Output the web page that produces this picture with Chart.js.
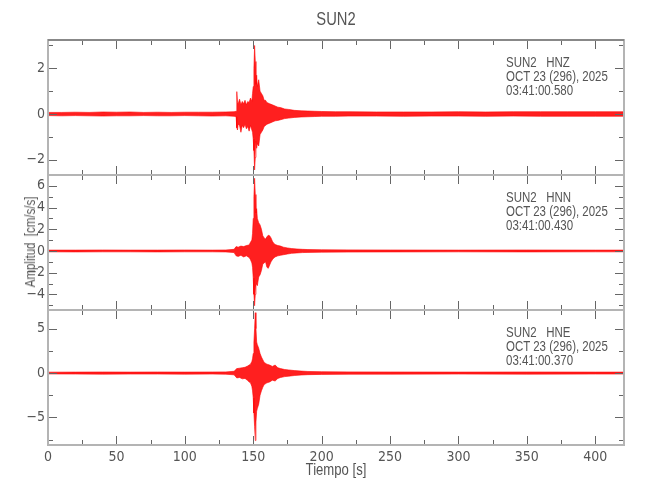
<!DOCTYPE html>
<html>
<head>
<meta charset="utf-8">
<script src="https://cdn.jsdelivr.net/npm/chart.js@4.4.0/dist/chart.umd.min.js"></script>
<style>
  body { margin: 0; background: #fff; }
  #wrap { position: relative; width: 650px; height: 500px; overflow: hidden;
          font-family: 'Liberation Sans', Arial, sans-serif; color: #555; }
  canvas { position: absolute; left: 0; }
  .txt { position: absolute; white-space: pre; line-height: 14px; font-size: 14px; transform-origin: 0 0; transform: scaleX(0.82); }
  .ctr { position: absolute; white-space: pre; transform: translate(-50%, 0) scaleX(0.82); }
</style>
</head>
<body>
<div id="wrap">
  <canvas id="c1" width="650" height="180" style="top:0;width:650px;height:180px"></canvas>
  <canvas id="c2" width="650" height="145" style="top:170px;width:650px;height:145px"></canvas>
  <canvas id="c3" width="650" height="195" style="top:305px;width:650px;height:195px"></canvas>
  <div class="ctr" style="left:336px;top:9px;font-size:18px;line-height:20px">SUN2</div>
  <div class="ctr" style="left:336px;top:461px;font-size:16px;line-height:18px">Tiempo [s]</div>
  <div style="position:absolute;left:30px;top:242px;font-size:14px;line-height:16px;white-space:pre;transform:translate(-50%,-50%) rotate(-90deg) scaleX(0.82)">Amplitud  [cm/s/s]</div>
  <div class="txt" style="left:506px;top:55px">SUN2   HNZ
OCT 23 (296), 2025
03:41:00.580</div>
  <div class="txt" style="left:506px;top:190px">SUN2   HNN
OCT 23 (296), 2025
03:41:00.430</div>
  <div class="txt" style="left:506px;top:325px">SUN2   HNE
OCT 23 (296), 2025
03:41:00.370</div>
</div>
<script>
// time axis
var xMajor = [0, 50, 100, 150, 200, 250, 300, 350, 400];
var xMinor = [25, 75, 125, 175, 225, 275, 325, 375];

// HNZ envelope (cm/s/s)
var t1 = [0, 10, 20, 30, 40, 50, 60, 70, 80, 90, 100, 110, 120, 130, 136, 137.5,
  138, 138.5, 139, 140, 141, 142, 143, 144, 145, 146, 147, 148, 149,
  149.5, 150, 150.5, 151, 151.5, 152, 152.5, 153, 154, 155, 156, 157, 158, 159, 160,
  162, 164, 166, 168, 170, 173, 176, 180, 185, 190, 195, 200, 210, 220,
  240, 260, 280, 300, 320, 340, 360, 380, 400, 421];
var up1 = [0.07, 0.07, 0.08, 0.07, 0.09, 0.08, 0.09, 0.07, 0.08, 0.07, 0.08, 0.08, 0.08, 0.09, 0.1, 0.12,
  0.98, 0.5, 0.45, 0.65, 0.4, 0.55, 0.45, 0.6, 0.4, 0.55, 0.5, 0.7, 0.55,
  0.9, 1.2, 2.0, 3.0, 2.3, 1.3, 1.7, 1.2, 1.5, 1.0, 0.9, 0.8, 0.6, 0.6, 0.5,
  0.45, 0.4, 0.35, 0.3, 0.28, 0.22, 0.2, 0.16, 0.14, 0.13, 0.12, 0.11, 0.1, 0.1,
  0.09, 0.09, 0.09, 0.1, 0.09, 0.1, 0.1, 0.1, 0.1, 0.1];
var lo1 = [-0.07, -0.08, -0.07, -0.08, -0.09, -0.08, -0.08, -0.07, -0.08, -0.08, -0.07, -0.08, -0.09, -0.08, -0.1, -0.12,
  -0.6, -0.7, -0.45, -0.5, -0.8, -0.5, -0.6, -0.45, -0.65, -0.55, -0.75, -0.5, -0.7,
  -0.8, -1.1, -1.6, -2.45, -1.9, -1.2, -1.5, -1.3, -1.4, -0.9, -0.8, -0.7, -0.55, -0.5, -0.45,
  -0.4, -0.35, -0.3, -0.28, -0.25, -0.2, -0.18, -0.15, -0.13, -0.12, -0.11, -0.1, -0.1, -0.09,
  -0.09, -0.1, -0.09, -0.09, -0.1, -0.09, -0.1, -0.1, -0.1, -0.1];

// HNN
var t2 = [0, 20, 40, 60, 80, 100, 120, 130, 136, 137.5, 139, 141, 143, 145, 147, 148, 149,
  149.5, 150, 150.5, 151, 151.5, 152, 152.5,
  153, 154, 155, 156, 157, 158, 159, 160, 161, 162, 163, 164, 165, 166,
  168, 170, 172, 175, 178, 182, 186, 190, 200, 220, 250, 300, 350, 400, 421];
var up2 = [0.08, 0.08, 0.09, 0.08, 0.08, 0.09, 0.08, 0.09, 0.15, 0.4, 0.35, 0.45, 0.4, 0.5, 0.55, 0.8, 1.0,
  1.6, 3.0, 5.0, 6.7, 5.2, 3.5, 3.9,
  3.0, 2.6, 2.4, 2.0, 1.4, 1.2, 1.1, 1.3, 1.45, 1.4, 1.2, 0.9, 0.7, 0.6,
  0.5, 0.45, 0.35, 0.28, 0.22, 0.18, 0.15, 0.13, 0.11, 0.1, 0.09, 0.08, 0.09, 0.08, 0.08];
var lo2 = [-0.08, -0.09, -0.08, -0.08, -0.09, -0.08, -0.08, -0.09, -0.15, -0.45, -0.5, -0.4, -0.55, -0.45, -0.6, -0.8, -1.1,
  -1.5, -2.5, -4.0, -5.05, -4.0, -3.2, -3.0,
  -3.2, -2.4, -2.2, -1.8, -1.2, -1.1, -1.0, -1.5, -1.6, -1.3, -1.0, -0.8, -0.65, -0.55,
  -0.45, -0.4, -0.35, -0.28, -0.22, -0.18, -0.15, -0.13, -0.11, -0.1, -0.09, -0.08, -0.09, -0.08, -0.08];

// HNE
var t3 = [0, 20, 40, 60, 80, 100, 120, 130, 136, 138, 140, 142, 144, 146, 147, 148, 149,
  149.5, 150, 150.5, 151, 151.5, 152, 152.5, 153, 154, 155, 156, 157, 158,
  160, 162, 164, 166, 168, 170, 173, 176, 180, 185, 190,
  200, 220, 250, 300, 350, 400, 421];
var up3 = [0.1, 0.11, 0.12, 0.11, 0.12, 0.11, 0.12, 0.13, 0.2, 0.5, 0.55, 0.6, 0.65, 0.8, 0.9, 1.0, 1.3,
  1.6, 2.2, 3.5, 5.0, 6.8, 5.0, 3.5, 3.2, 2.8, 2.2, 1.8, 1.5, 1.2,
  1.0, 0.9, 0.75, 0.9, 0.6, 0.5, 0.4, 0.35, 0.28, 0.22, 0.18,
  0.15, 0.13, 0.12, 0.11, 0.12, 0.11, 0.11];
var lo3 = [-0.1, -0.11, -0.12, -0.11, -0.11, -0.12, -0.11, -0.13, -0.2, -0.55, -0.5, -0.65, -0.6, -0.85, -1.0, -1.1, -1.5,
  -2.0, -2.8, -4.5, -6.0, -7.6, -5.5, -4.3, -4.0, -3.5, -2.5, -2.0, -1.6, -1.3,
  -1.1, -1.0, -0.8, -0.9, -0.6, -0.5, -0.4, -0.35, -0.28, -0.22, -0.18,
  -0.15, -0.13, -0.12, -0.11, -0.12, -0.11, -0.11];

// y ticks per panel
var yMajor1 = [-2, 0, 2], yMinor1 = [-1, 1, 3];
var yMajor2 = [-4, -2, 0, 2, 4, 6], yMinor2 = [-5, -3, -1, 1, 3, 5];
var yMajor3 = [-5, 0, 5], yMinor3 = [-7.5, -2.5, 2.5];

var FONT = "'DejaVu Sans Condensed', 'Liberation Sans', sans-serif";

function pts(t, v) {
  return t.map(function (x, i) { return { x: x, y: v[i] }; });
}

var framePlugin = {
  id: 'frame',
  afterDraw: function (chart, args, opts) {
    var ctx = chart.ctx, a = chart.chartArea;
    var xs = chart.scales.x, ys = chart.scales.y;
    ctx.save();
    ctx.strokeStyle = '#666';
    ctx.lineWidth = 1;
    ctx.beginPath();
    function xt(list, len) {
      list.forEach(function (v) {
        var p = Math.round(xs.getPixelForValue(v)) + 0.5;
        ctx.moveTo(p, a.top); ctx.lineTo(p, a.top + len);
        ctx.moveTo(p, a.bottom); ctx.lineTo(p, a.bottom - len);
      });
    }
    function yt(list, len) {
      list.forEach(function (v) {
        var p = Math.round(ys.getPixelForValue(v)) + 0.5;
        ctx.moveTo(a.left, p); ctx.lineTo(a.left + len, p);
        ctx.moveTo(a.right, p); ctx.lineTo(a.right - len, p);
      });
    }
    xt(xMajor, 9); xt(xMinor, 5);
    yt(opts.major, 9); yt(opts.minor, 5);
    ctx.stroke();
    ctx.strokeStyle = '#b4b4b4';
    ctx.lineWidth = 2;
    ctx.strokeRect(a.left, a.top, a.right - a.left, a.bottom - a.top);
    if (opts.darkTop) {
      ctx.strokeStyle = '#888';
      ctx.beginPath(); ctx.moveTo(a.left, a.top); ctx.lineTo(a.right, a.top); ctx.stroke();
    }
    ctx.restore();
  }
};

function makeChart(id, t, up, lo, ymin, ymax, major, minor, pad, showX, darkTop) {
  new Chart(document.getElementById(id), {
    type: 'line',
    data: {
      datasets: [{
        data: pts(t, up),
        borderColor: '#ff0000',
        borderWidth: 0.6,
        backgroundColor: 'rgba(255,0,0,0.88)',
        pointRadius: 0,
        tension: 0,
        fill: '+1'
      }, {
        data: pts(t, lo),
        borderColor: '#ff0000',
        borderWidth: 0.6,
        pointRadius: 0,
        tension: 0,
        fill: false
      }]
    },
    options: {
      responsive: false,
      maintainAspectRatio: false,
      animation: false,
      devicePixelRatio: 1,
      layout: { padding: { left: 0, right: 26, top: pad[0], bottom: pad[1] } },
      plugins: {
        legend: { display: false },
        tooltip: { enabled: false },
        frame: { major: major, minor: minor, darkTop: darkTop }
      },
      scales: {
        x: {
          type: 'linear',
          min: 0,
          max: 421,
          display: showX,
          grid: { display: false, drawTicks: false },
          border: { display: false },
          afterBuildTicks: function (s) { s.ticks = xMajor.map(function (v) { return { value: v }; }); },
          afterFit: function (s) {
            s.height = showX ? 55 : 0;
            s.paddingLeft = 0; s.paddingRight = 0;
          },
          ticks: { padding: 4, color: '#555', font: { family: FONT, size: 14 }, maxRotation: 0 }
        },
        y: {
          type: 'linear',
          min: ymin,
          max: ymax,
          grid: { display: false, drawTicks: false },
          border: { display: false },
          afterBuildTicks: function (s) { s.ticks = major.map(function (v) { return { value: v }; }); },
          afterFit: function (s) {
            s.width = 48;
            s.paddingTop = 0; s.paddingBottom = 0;
          },
          ticks: {
            padding: 3,
            color: '#555',
            font: { family: FONT, size: 14 },
            callback: function (v) { return v < 0 ? '\u2212' + Math.abs(v) : String(v); }
          }
        }
      }
    },
    plugins: [framePlugin]
  });
}

makeChart('c1', t1, up1, lo1, -2.67, 3.24, yMajor1, yMinor1, [40, 5], false, true);
makeChart('c2', t2, up2, lo2, -5.44, 7.0, yMajor2, yMinor2, [5, 5], false, false);
makeChart('c3', t3, up3, lo3, -8.1, 7.1, yMajor3, yMinor3, [5, 0], true, false);
</script>
</body>
</html>
